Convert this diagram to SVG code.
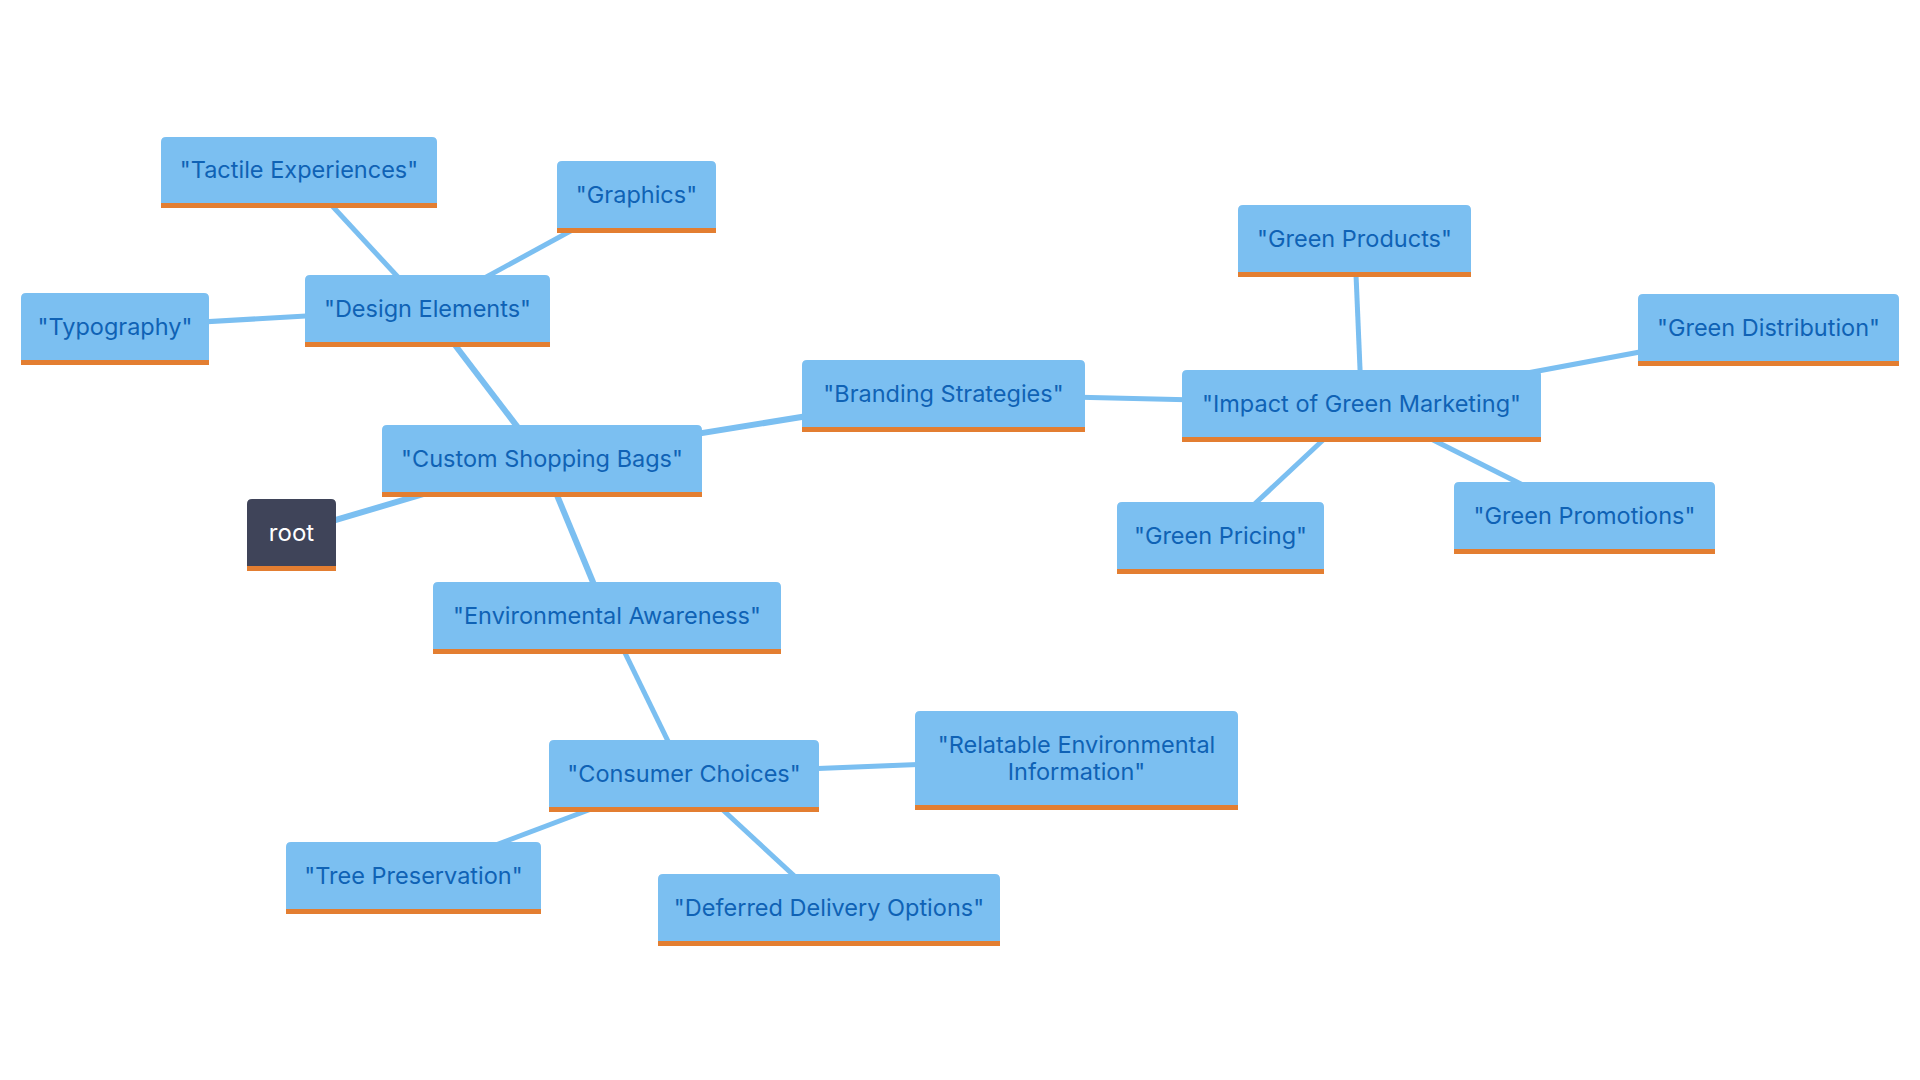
<svg xmlns="http://www.w3.org/2000/svg" width="1920" height="1080" viewBox="0 0 1920 1080">
<style>
.bg{fill:#ffffff}
.box{fill:#7bbff1}
.bar{fill:#e37e31}
.rootbox{fill:#3f4459}
.lbl{font-family:Inter,"Noto Sans","Liberation Sans",sans-serif;font-size:23.5px;fill:#0f62b5;text-anchor:middle;dominant-baseline:central}
.rootlbl{font-family:Inter,"Noto Sans","Liberation Sans",sans-serif;font-size:24px;fill:#ffffff;text-anchor:middle;dominant-baseline:central}
.e1{stroke:#7bbff1;stroke-width:6;fill:none;stroke-linecap:butt}
.e2{stroke:#7bbff1;stroke-width:5;fill:none;stroke-linecap:butt}
</style>
<rect class="bg" x="0" y="0" width="1920" height="1080"/>
<g id="connectors">
<line class="e1" x1="291.5" y1="533" x2="542" y2="459"/>
<line class="e1" x1="542" y1="459" x2="427.5" y2="309"/>
<line class="e2" x1="427.5" y1="309" x2="299" y2="170"/>
<line class="e2" x1="427.5" y1="309" x2="636.5" y2="195"/>
<line class="e2" x1="427.5" y1="309" x2="115" y2="327"/>
<line class="e1" x1="542" y1="459" x2="943.5" y2="394"/>
<line class="e2" x1="943.5" y1="394" x2="1361.5" y2="404"/>
<line class="e2" x1="1361.5" y1="404" x2="1354.5" y2="239"/>
<line class="e2" x1="1361.5" y1="404" x2="1768.5" y2="328"/>
<line class="e2" x1="1361.5" y1="404" x2="1220.5" y2="536"/>
<line class="e2" x1="1361.5" y1="404" x2="1584.5" y2="516"/>
<line class="e1" x1="542" y1="459" x2="607" y2="616"/>
<line class="e2" x1="607" y1="616" x2="684" y2="774"/>
<line class="e2" x1="684" y1="774" x2="1076.5" y2="758"/>
<line class="e2" x1="684" y1="774" x2="413.5" y2="876"/>
<line class="e2" x1="684" y1="774" x2="829" y2="908"/>
</g>
<g id="node-root">
<path class="rootbox" d="M247,571 V504 Q247,499 252,499 H331 Q336,499 336,504 V571 Z"/>
<rect class="bar" x="247" y="566" width="89" height="5"/>
<text class="rootlbl" x="291.5" y="532">root</text>
</g>
<g id="node-custom-shopping-bags">
<path class="box" d="M382,497 V430 Q382,425 387,425 H697 Q702,425 702,430 V497 Z"/>
<rect class="bar" x="382" y="492" width="320" height="5"/>
<text class="lbl" x="542" y="458">"Custom Shopping Bags"</text>
</g>
<g id="node-design-elements">
<path class="box" d="M305,347 V280 Q305,275 310,275 H545 Q550,275 550,280 V347 Z"/>
<rect class="bar" x="305" y="342" width="245" height="5"/>
<text class="lbl" x="427.5" y="308">"Design Elements"</text>
</g>
<g id="node-tactile-experiences">
<path class="box" d="M161,208 V142 Q161,137 166,137 H432 Q437,137 437,142 V208 Z"/>
<rect class="bar" x="161" y="203" width="276" height="5"/>
<text class="lbl" x="299" y="169">"Tactile Experiences"</text>
</g>
<g id="node-graphics">
<path class="box" d="M557,233 V166 Q557,161 562,161 H711 Q716,161 716,166 V233 Z"/>
<rect class="bar" x="557" y="228" width="159" height="5"/>
<text class="lbl" x="636.5" y="194">"Graphics"</text>
</g>
<g id="node-typography">
<path class="box" d="M21,365 V298 Q21,293 26,293 H204 Q209,293 209,298 V365 Z"/>
<rect class="bar" x="21" y="360" width="188" height="5"/>
<text class="lbl" x="115" y="326">"Typography"</text>
</g>
<g id="node-branding-strategies">
<path class="box" d="M802,432 V365 Q802,360 807,360 H1080 Q1085,360 1085,365 V432 Z"/>
<rect class="bar" x="802" y="427" width="283" height="5"/>
<text class="lbl" x="943.5" y="393">"Branding Strategies"</text>
</g>
<g id="node-impact-of-green-marketing">
<path class="box" d="M1182,442 V375 Q1182,370 1187,370 H1536 Q1541,370 1541,375 V442 Z"/>
<rect class="bar" x="1182" y="437" width="359" height="5"/>
<text class="lbl" x="1361.5" y="403">"Impact of Green Marketing"</text>
</g>
<g id="node-green-products">
<path class="box" d="M1238,277 V210 Q1238,205 1243,205 H1466 Q1471,205 1471,210 V277 Z"/>
<rect class="bar" x="1238" y="272" width="233" height="5"/>
<text class="lbl" x="1354.5" y="238">"Green Products"</text>
</g>
<g id="node-green-distribution">
<path class="box" d="M1638,366 V299 Q1638,294 1643,294 H1894 Q1899,294 1899,299 V366 Z"/>
<rect class="bar" x="1638" y="361" width="261" height="5"/>
<text class="lbl" x="1768.5" y="327">"Green Distribution"</text>
</g>
<g id="node-green-pricing">
<path class="box" d="M1117,574 V507 Q1117,502 1122,502 H1319 Q1324,502 1324,507 V574 Z"/>
<rect class="bar" x="1117" y="569" width="207" height="5"/>
<text class="lbl" x="1220.5" y="535">"Green Pricing"</text>
</g>
<g id="node-green-promotions">
<path class="box" d="M1454,554 V487 Q1454,482 1459,482 H1710 Q1715,482 1715,487 V554 Z"/>
<rect class="bar" x="1454" y="549" width="261" height="5"/>
<text class="lbl" x="1584.5" y="515">"Green Promotions"</text>
</g>
<g id="node-environmental-awareness">
<path class="box" d="M433,654 V587 Q433,582 438,582 H776 Q781,582 781,587 V654 Z"/>
<rect class="bar" x="433" y="649" width="348" height="5"/>
<text class="lbl" x="607" y="615">"Environmental Awareness"</text>
</g>
<g id="node-consumer-choices">
<path class="box" d="M549,812 V745 Q549,740 554,740 H814 Q819,740 819,745 V812 Z"/>
<rect class="bar" x="549" y="807" width="270" height="5"/>
<text class="lbl" x="684" y="773">"Consumer Choices"</text>
</g>
<g id="node-relatable-environmental-information">
<path class="box" d="M915,810 V716 Q915,711 920,711 H1233 Q1238,711 1238,716 V810 Z"/>
<rect class="bar" x="915" y="805" width="323" height="5"/>
<text class="lbl" x="1076.5" y="744">"Relatable Environmental</text>
<text class="lbl" x="1076.5" y="771">Information"</text>
</g>
<g id="node-tree-preservation">
<path class="box" d="M286,914 V847 Q286,842 291,842 H536 Q541,842 541,847 V914 Z"/>
<rect class="bar" x="286" y="909" width="255" height="5"/>
<text class="lbl" x="413.5" y="875">"Tree Preservation"</text>
</g>
<g id="node-deferred-delivery-options">
<path class="box" d="M658,946 V879 Q658,874 663,874 H995 Q1000,874 1000,879 V946 Z"/>
<rect class="bar" x="658" y="941" width="342" height="5"/>
<text class="lbl" x="829" y="907">"Deferred Delivery Options"</text>
</g>
</svg>
